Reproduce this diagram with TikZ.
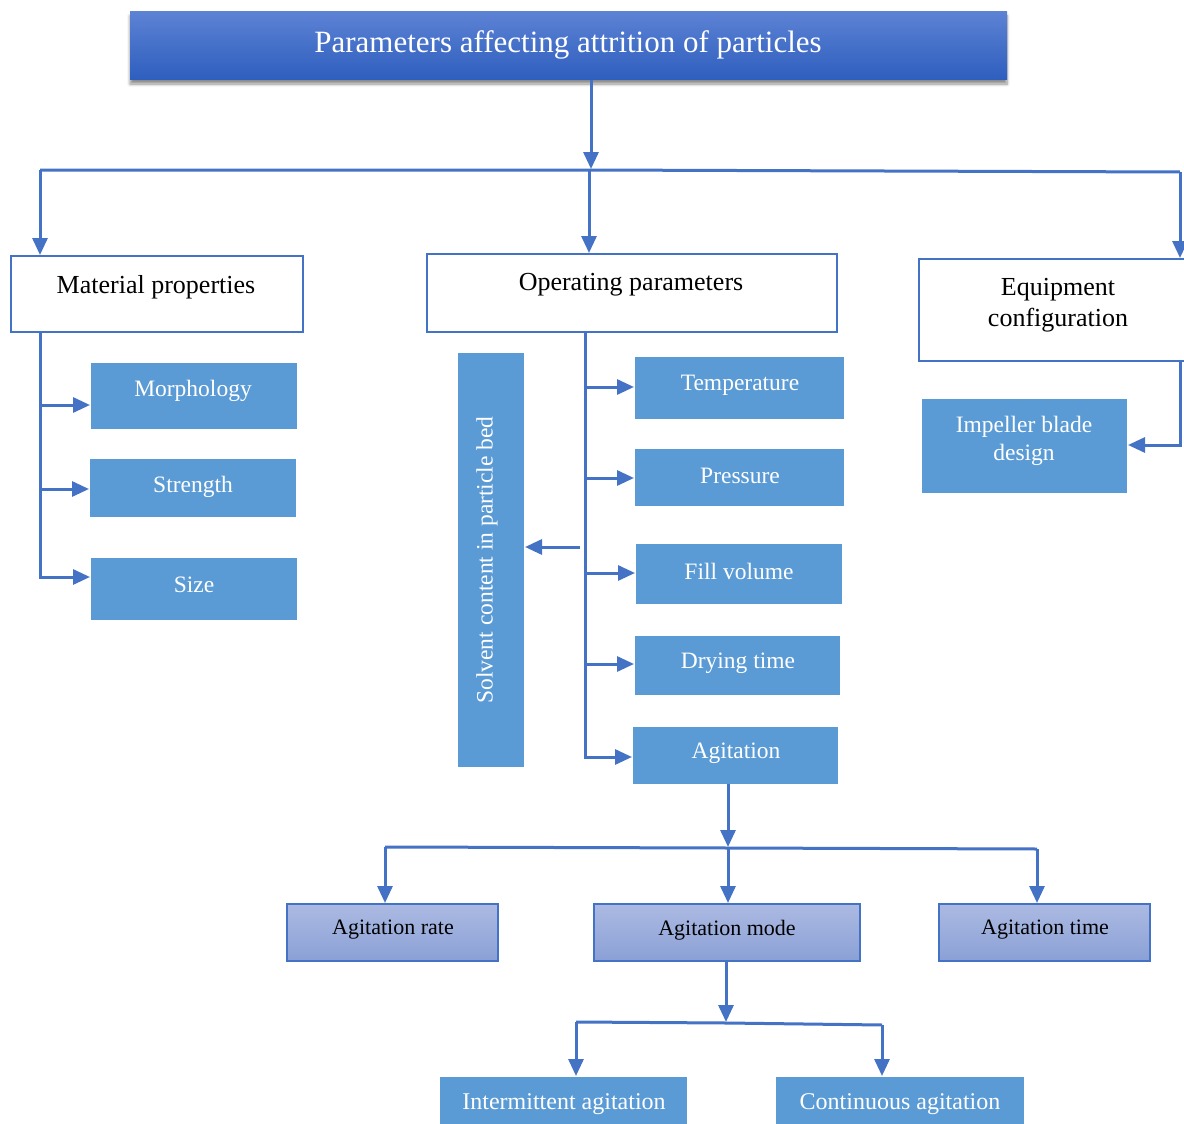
\documentclass[tikz,border=0pt]{standalone}
\usepackage{fontspec}
\setmainfont{Liberation Serif}
\usetikzlibrary{arrows.meta,shadows.blur,calc}
\definecolor{lineblue}{HTML}{4472C4}
\definecolor{boxblue}{HTML}{5B9BD5}
\definecolor{titletop}{RGB}{92,130,212}
\definecolor{titlebot}{RGB}{46,94,190}
\definecolor{lavtop}{RGB}{172,186,226}
\definecolor{lavbot}{RGB}{138,160,214}
\begin{document}
\begin{tikzpicture}[x=1pt,y=-1pt,
  every node/.style={inner sep=0pt,outer sep=0pt},
  titlebox/.style={rectangle,top color=titletop,bottom color=titlebot,draw=none,
    blur shadow={shadow xshift=0pt,shadow yshift=-4pt,shadow opacity=45,shadow blur steps=6,shadow blur radius=3pt}},
  whitebox/.style={rectangle,draw=lineblue,line width=2.4pt,fill=white},
  bluebox/.style={rectangle,fill=boxblue,draw=none},
  lavbox/.style={rectangle,top color=lavtop,bottom color=lavbot,draw=lineblue,line width=1.5pt},
  ttitle/.style={font=\fontsize{31}{36}\selectfont,text=white},
  tblack/.style={font=\fontsize{26}{31}\selectfont,text=black,align=center},
  twhite/.style={font=\fontsize{23.5}{28}\selectfont,text=white,align=center},
  tlav/.style={font=\fontsize{22}{26}\selectfont,text=black},
  tbot/.style={font=\fontsize{24}{28}\selectfont,text=white},
  wire/.style={draw=lineblue,line width=3pt},
  conn/.style={wire,-{Triangle[length=17pt,width=15pt]},shorten >=1pt},
]
\useasboundingbox (0,0) rectangle (1184,1124);
\clip (0,0) rectangle (1184,1124);

% title
\node[titlebox,minimum width=877pt,minimum height=68pt] (title) at (568.5,46) {};
\node[ttitle] (titlet) at (568,45) {Parameters affecting attrition of particles};

% level 1
\node[whitebox,minimum width=292pt,minimum height=76pt] (mat) at (157,294) {};
\node[tblack] (matt) at (156,287) {Material properties};
\node[whitebox,minimum width=410pt,minimum height=78pt] (op) at (632,293) {};
\node[tblack] (opt) at (631,285) {Operating parameters};
\node[whitebox,minimum width=281pt,minimum height=102pt] (eq) at (1059.5,310) {};
\node[tblack] (eqt) at (1058,305) {Equipment\\configuration};

% material children
\node[bluebox,minimum width=206pt,minimum height=66pt] (morph) at (194,396) {};
\node[twhite] (morpht) at (193,391) {Morphology};
\node[bluebox,minimum width=206pt,minimum height=58pt] (str) at (193,488) {};
\node[twhite] (strt) at (193,487) {Strength};
\node[bluebox,minimum width=206pt,minimum height=62pt] (size) at (194,589) {};
\node[twhite] (sizet) at (194,585) {Size};

% operating children
\node[bluebox,minimum width=66pt,minimum height=414pt] (solv) at (491,560) {};
\node[twhite,rotate=90] (solvt) at (487,560) {Solvent content in particle bed};
\node[bluebox,minimum width=209pt,minimum height=62pt] (temp) at (739.5,388) {};
\node[twhite] (tempt) at (740,385) {Temperature};
\node[bluebox,minimum width=209pt,minimum height=57pt] (press) at (739.5,477.5) {};
\node[twhite] (presst) at (740,476) {Pressure};
\node[bluebox,minimum width=206pt,minimum height=60pt] (fill) at (739,574) {};
\node[twhite] (fillt) at (739,571) {Fill volume};
\node[bluebox,minimum width=205pt,minimum height=59pt] (dry) at (737.5,665.5) {};
\node[twhite] (dryt) at (738,663) {Drying time};
\node[bluebox,minimum width=205pt,minimum height=57pt] (agit) at (735.5,755.5) {};
\node[twhite] (agitt) at (736,753) {Agitation};

% equipment child
\node[bluebox,minimum width=205pt,minimum height=94pt] (imp) at (1024.5,446) {};
\node[twhite] (impt) at (1024,441) {Impeller blade\\design};

% agitation children
\node[lavbox,minimum width=211pt,minimum height=57pt] (arate) at (392.5,932.5) {};
\node[tlav] (aratet) at (393,930) {Agitation rate};
\node[lavbox,minimum width=266pt,minimum height=57pt] (amode) at (727,932.5) {};
\node[tlav] (amodet) at (727,930) {Agitation mode};
\node[lavbox,minimum width=211pt,minimum height=57pt] (atime) at (1044.5,932.5) {};
\node[tlav] (atimet) at (1045,930) {Agitation time};

% mode children
\node[bluebox,minimum width=247pt,minimum height=60pt] (inter) at (563.5,1107) {};
\node[tbot] (intert) at (564,1104) {Intermittent agitation};
\node[bluebox,minimum width=248pt,minimum height=60pt] (cont) at (900,1107) {};
\node[tbot] (contt) at (900,1104) {Continuous agitation};

% coordinates
\coordinate (hb) at (591,170);
\coordinate (hl) at (40,170);
\coordinate (hm) at (589,170);
\coordinate (hr) at (1180,172);
\coordinate (ov) at (585,332);
\coordinate (sa) at (580,547);
\coordinate (ab) at (728,848);
\coordinate (abl) at (385,847);
\coordinate (abr) at (1037,849);
\coordinate (mb) at (726,1023);
\coordinate (mbl) at (576,1022);
\coordinate (mbr) at (882,1025);

% top connectors
\draw[conn] (title.south -| hb) -- (hb);
\draw[wire] (hl) -- (hm) -- (hr);
\draw[conn] (hl) -- (hl |- mat.north);
\draw[conn] (hm) -- (hm |- op.north);
\draw[conn] (hr) -- (hr |- eq.north);

% material branch
\draw[conn] (mat.south -| hl) |- (size.west |- 0,577);
\draw[conn] (hl |- 0,405) -- (morph.west |- 0,405);
\draw[conn] (hl |- 0,489) -- (str.west |- 0,489);

% operating branch
\draw[conn] (op.south -| ov) |- (agit.west |- 0,757);
\draw[conn] (ov |- 0,387) -- (temp.west |- 0,387);
\draw[conn] (ov |- 0,478) -- (press.west |- 0,478);
\draw[conn] (ov |- 0,573) -- (fill.west |- 0,573);
\draw[conn] (ov |- 0,664) -- (dry.west |- 0,664);
\draw[conn] (sa) -- (solv.east |- sa);

% equipment branch
\draw[conn] (eq.south -| hr) |- (imp.east |- 0,445);

% agitation branch
\draw[conn] (agit.south -| ab) -- (ab);
\draw[wire] (abl) -- (ab) -- (abr);
\draw[conn] (abl) -- (abl |- arate.north);
\draw[conn] (ab) -- (ab |- amode.north);
\draw[conn] (abr) -- (abr |- atime.north);

% mode branch
\draw[conn] (amode.south -| mb) -- (mb);
\draw[wire] (mbl) -- (mb) -- (mbr);
\draw[conn] (mbl) -- (mbl |- inter.north);
\draw[conn] (mbr) -- (mbr |- cont.north);
\end{tikzpicture}
\end{document}
